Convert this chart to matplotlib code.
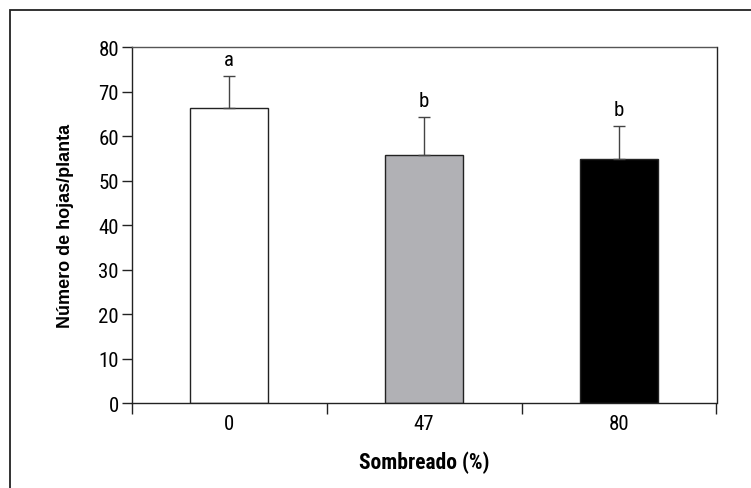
import matplotlib
matplotlib.use("Agg")
import matplotlib.pyplot as plt
from matplotlib.patches import Rectangle
import numpy as np

categories = ["0", "47", "80"]
means = [66.3, 55.7, 54.9]
errors = [7.2, 8.6, 7.5]
letters = ["a", "b", "b"]
bar_colors = ["#ffffff", "#b1b1b5", "#000000"]
yticks = [0, 10, 20, 30, 40, 50, 60, 70, 80]

narrow = ["Roboto Condensed", "DejaVu Sans"]
arial = ["Liberation Sans", "DejaVu Sans"]

fig = plt.figure(figsize=(7.51, 4.89), dpi=100)
# outer frame (only top and left edges visible)
fig.patches.append(Rectangle((10/751, -0.2), 1.2, 1.2 - 10.5/489, transform=fig.transFigure,
                             fill=False, edgecolor="#222222", linewidth=1.3))

ax = fig.add_axes([131.7/751, 1 - 404.3/489, (716.5 - 131.7)/751, (404.3 - 48.3)/489])
x = np.arange(len(categories))
ax.bar(x, means, width=0.4, color=bar_colors, edgecolor="#222222", linewidth=1.0, zorder=2)
ax.errorbar(x, means, yerr=[np.zeros(len(means)), errors], fmt="none", ecolor="#444444",
            elinewidth=1.0, capsize=4, capthick=1.0, zorder=3)
for xi, m, e, l in zip(x, means, errors, letters):
    ax.annotate(l, (xi, m + e), xytext=(0, 5), textcoords="offset points",
                ha="center", va="bottom", fontsize=15, family=narrow)

ax.set_xlim(-0.5, 2.5)
ax.set_ylim(0, 80)
ax.set_yticks(yticks)
ax.set_yticklabels([str(v) for v in yticks], family=narrow, fontsize=15)
ax.set_xticks(x)
ax.set_xticklabels(categories, family=narrow, fontsize=15)
ax.set_xticks([-0.5, 0.5, 1.5, 2.5], minor=True)
ax.tick_params(axis="x", which="major", length=0, pad=8)
ax.tick_params(axis="x", which="minor", length=8, width=1.0, direction="out", color="#222222")
ax.tick_params(axis="y", which="major", length=7.2, width=1.0, direction="out", pad=2, color="#222222")

for s in ["left", "bottom", "right"]:
    ax.spines[s].set_color("#222222")
    ax.spines[s].set_linewidth(1.0)
ax.spines["top"].set_color("#555555")
ax.spines["top"].set_linewidth(1.0)

ax.set_xlabel("Sombreado (%)", family=narrow, fontsize=15.5, fontweight="bold")
ax.xaxis.set_label_coords(0.5, (404.3 - 463) / 356, transform=ax.transAxes)
ax.xaxis.label.set_va("center")
ax.set_ylabel("Número de hojas/planta", family=arial, fontsize=13, fontweight="bold")
ax.yaxis.set_label_coords((66 - 131.7) / 584.8, 0.5, transform=ax.transAxes)
ax.yaxis.label.set_va("center")

fig.savefig("out.png", dpi=100)
